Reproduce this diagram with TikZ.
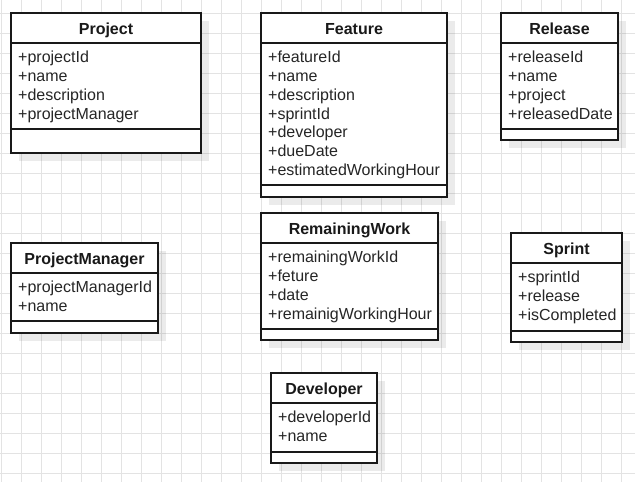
\documentclass[tikz,border=0pt]{standalone}
\usepackage{fontspec}
\setmainfont{Liberation Sans}
\usepackage{tikz}

% one class box: name, left, top, right, bottom, title line, attribute line, title, attributes
\newcommand{\umlclass}[9]{%
\fill[classshadow] (#2+8,#3+8) rectangle (#4+8,#5+8);
\node[classbox, anchor=north west, minimum width={(#4-#2)*1pt}, minimum height={(#5-#3)*1pt}] (#1) at (#2,#3) {};
\draw[classline] (#2,#6) -- (#4,#6);
\draw[classline] (#2,#7) -- (#4,#7);
\node[classtitle, anchor=base] (#1-title) at ({(#2+#4)/2},#3+21) {#8};
\foreach \attr [count=\i] in {#9}
  \node[classattr, anchor=base west] (#1-a\i) at (#2+7,{#6+19.6+18.8*(\i-1)}) {\attr};
}

\begin{document}
\begin{tikzpicture}[x=1pt, y=-1pt,
  gridline/.style={black!11, line width=1pt},
  classshadow/.style={fill=black, opacity=0.08},
  classbox/.style={draw=black!90, fill=white, line width=1.2pt, inner sep=0pt, outer sep=0pt},
  classline/.style={black!90, line width=1.1pt},
  classtitle/.style={inner sep=0pt, text=black!90, font=\fontsize{16}{19}\selectfont\bfseries},
  classattr/.style={inner sep=0pt, text=black!85, font=\fontsize{16}{19}\selectfont}]
\useasboundingbox (0,0) rectangle (635,482);
\fill[white] (0,0) rectangle (635,482);

% grid
\foreach \gx in {1,21,...,621}
  \draw[gridline] (\gx,0) -- (\gx,482);
\foreach \gy in {13,33,...,473}
  \draw[gridline] (0,\gy) -- (635,\gy);

\umlclass{project}{11}{13}{201}{153}{43}{129}{Project}{+projectId,+name,+description,+projectManager}
\umlclass{feature}{261}{13}{447}{197}{43}{185}{Feature}{+featureId,+name,+description,+sprintId,+developer,+dueDate,+estimatedWorkingHour}
\umlclass{release}{501}{13}{618}{140}{43}{129}{Release}{+releaseId,+name,+project,+releasedDate}
\umlclass{manager}{11}{243}{158}{333}{273}{321}{ProjectManager}{+projectManagerId,+name}
\umlclass{remaining}{261}{213}{438}{340}{243}{329}{RemainingWork}{+remainingWorkId,+feture,+date,+remainigWorkingHour}
\umlclass{sprint}{511}{233}{622}{342}{263}{331}{Sprint}{+sprintId,+release,+isCompleted}
\umlclass{developer}{271}{373}{377}{463}{403}{452}{Developer}{+developerId,+name}
\end{tikzpicture}
\end{document}
